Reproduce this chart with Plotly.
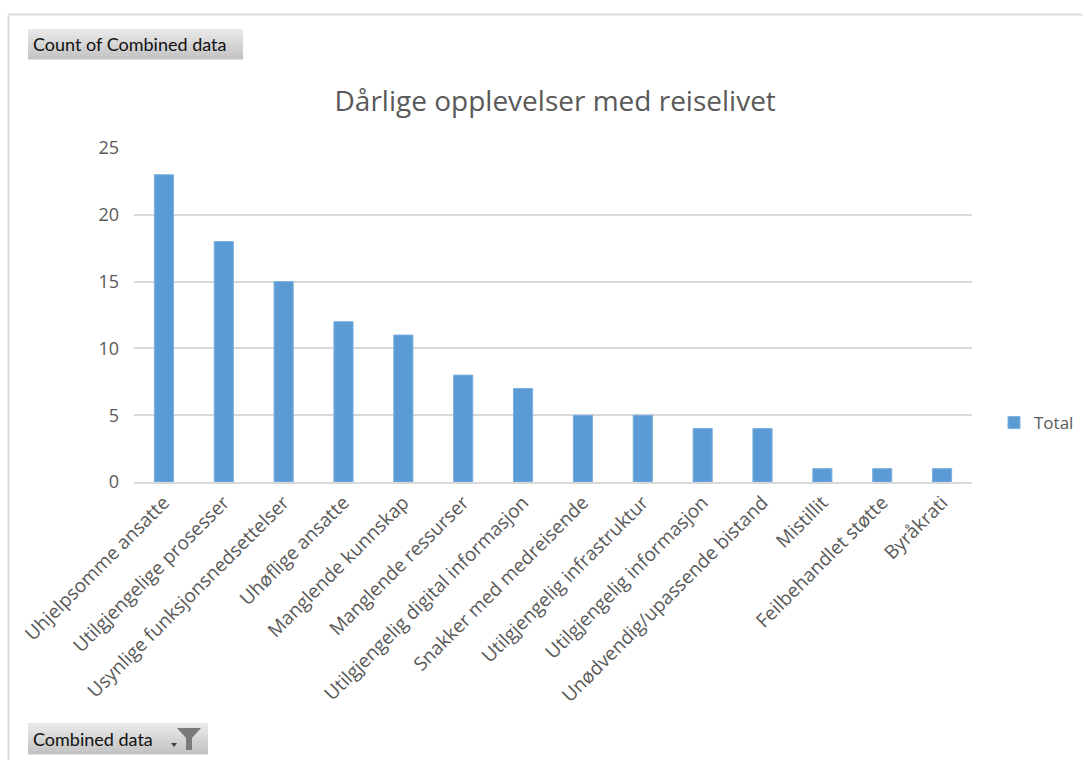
import plotly.graph_objects as go

# Chart data
categories = [
    "Uhjelpsomme ansatte",
    "Utilgjengelige prosesser",
    "Usynlige funksjonsnedsettelser",
    "Uhøflige ansatte",
    "Manglende kunnskap",
    "Manglende ressurser",
    "Utilgjengelig digital informasjon",
    "Snakker med medreisende",
    "Utilgjengelig infrastruktur",
    "Utilgjengelig informasjon",
    "Unødvendig/upassende bistand",
    "Mistillit",
    "Feilbehandlet støtte",
    "Byråkrati",
]
totals = [23, 18, 15, 12, 11, 8, 7, 5, 5, 4, 4, 1, 1, 1]
y_ticks = [0, 5, 10, 15, 20, 25]

W, H = 1082, 760
L, R, T, B = 134, 110, 148, 278
PW, PH = W - L - R, H - T - B

FONT = "Open Sans"
GREY_TXT = "#595959"


def px(x):
    return (x - L) / PW


def py(y):
    return (H - B - y) / PH


fig = go.Figure()
fig.add_trace(go.Bar(
    x=categories, y=totals, name="Total",
    marker=dict(color="#5b9bd5", line=dict(color="#7fb0de", width=1)),
    showlegend=True,
))

shapes = []
# outer chart border (top and left edges)
shapes.append(dict(type="line", xref="paper", yref="paper",
                   x0=px(8.5), x1=px(1082), y0=py(14.5), y1=py(14.5),
                   line=dict(color="#d9d9d9", width=2)))
shapes.append(dict(type="line", xref="paper", yref="paper",
                   x0=px(8.5), x1=px(8.5), y0=py(14.5), y1=py(760),
                   line=dict(color="#d9d9d9", width=2)))


def button(x0, y0, x1, y1):
    # grey gradient field button built from thin bands
    n = 10
    top = (0xe8, 0xe8, 0xe8)
    bot = (0xc4, 0xc4, 0xc4)
    h = (y1 - y0) / n
    for i in range(n):
        t = i / (n - 1)
        c = tuple(int(round(top[k] + (bot[k] - top[k]) * t)) for k in range(3))
        shapes.append(dict(type="rect", xref="paper", yref="paper",
                           x0=px(x0), x1=px(x1), y0=py(y0 + h * i), y1=py(y0 + h * (i + 1) + 0.5),
                           fillcolor="rgb(%d,%d,%d)" % c, line=dict(width=0), layer="above"))


button(28, 29, 243, 59)
button(28, 723, 208, 754)

# funnel filter icon
funnel = "M {a},{b} L {c},{b} L {d},{e} L {d},{f} L {g},{f} L {g},{e} Z".format(
    a=px(177), b=py(728), c=px(201), d=px(192), e=py(738), f=py(750), g=px(186))
shapes.append(dict(type="path", xref="paper", yref="paper", path=funnel,
                   fillcolor="#7a7a7a", line=dict(width=0), layer="above"))
arrow = "M {a},{b} L {c},{b} L {d},{e} Z".format(a=px(171), c=px(177), b=py(743), d=px(174), e=py(747))
shapes.append(dict(type="path", xref="paper", yref="paper", path=arrow,
                   fillcolor="#404040", line=dict(width=0), layer="above"))

annotations = [
    dict(text="Count of Combined data", xref="paper", yref="paper",
         x=px(31), y=py(44), xanchor="left", yanchor="middle", showarrow=False,
         font=dict(family="Lato", size=18, color="#111111")),
    dict(text="Combined data", xref="paper", yref="paper",
         x=px(31), y=py(739), xanchor="left", yanchor="middle", showarrow=False,
         font=dict(family="Lato", size=18, color="#111111")),
]

fig.update_layout(
    width=W, height=H,
    margin=dict(l=L, r=R, t=T, b=B, autoexpand=False),
    paper_bgcolor="white", plot_bgcolor="white",
    title=dict(text="Dårlige opplevelser med reiselivet", x=px(564), xanchor="center",
               y=1 - 101 / H, yanchor="middle",
               font=dict(family=FONT, size=28, color=GREY_TXT)),
    bargap=0.68,
    xaxis=dict(tickangle=-45, tickfont=dict(family=FONT, size=19, color=GREY_TXT),
               showgrid=False, showline=True, linecolor="#d9d9d9", linewidth=2,
               ticks="", fixedrange=True),
    yaxis=dict(range=[0, 25], tickvals=y_ticks, tickfont=dict(family=FONT, size=18, color=GREY_TXT),
               showgrid=True, gridcolor="#d9d9d9", gridwidth=2, zeroline=False,
               showline=False, ticks="", ticklabelstandoff=14),
    legend=dict(x=px(994), y=py(423), xanchor="left", yanchor="middle",
                font=dict(family=FONT, size=17, color=GREY_TXT), itemwidth=30),
    shapes=shapes,
    annotations=annotations,
    showlegend=True,
)

fig.write_html("out.html", config={"displayModeBar": False})
